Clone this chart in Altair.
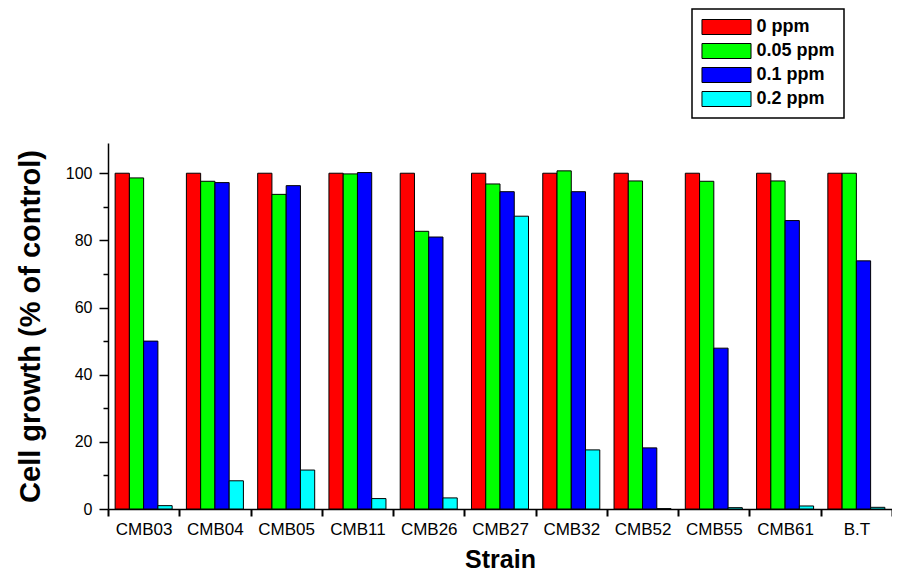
import altair as alt
import pandas as pd

strains = ["CMB03", "CMB04", "CMB05", "CMB11", "CMB26", "CMB27", "CMB32", "CMB52", "CMB55", "CMB61", "B.T"]
doses = ["0 ppm", "0.05 ppm", "0.1 ppm", "0.2 ppm"]
colors = ["#FF0000", "#00FF00", "#0000FF", "#00FFFF"]

v0 = [100, 100, 100, 100, 100, 100, 100, 100, 100, 100, 100]
v005 = [98.6, 97.6, 93.7, 99.8, 82.7, 96.8, 100.7, 97.7, 97.6, 97.7, 100.0]
v01 = [50.0, 97.2, 96.3, 100.2, 81.0, 94.5, 94.5, 18.2, 47.9, 85.9, 73.9]
v02 = [1.0, 8.4, 11.6, 3.1, 3.3, 87.2, 17.6, 0.1, 0.4, 0.9, 0.5]

y_ticks = [0, 10, 20, 30, 40, 50, 60, 70, 80, 90, 100]

rows = []
for series, dose in zip([v0, v005, v01, v02], doses):
    for s, v in zip(strains, series):
        rows.append({"Strain": s, "Dose": dose, "Value": v})
df = pd.DataFrame(rows)

FONT = "Liberation Sans"

chart = alt.Chart(df).mark_bar(stroke="black", strokeWidth=1).encode(
    x=alt.X("Strain:N", sort=strains,
            scale=alt.Scale(paddingInner=0, paddingOuter=0),
            axis=alt.Axis(title="Strain", labelAngle=0, ticks=True, tickBand="extent",
                          tickSize=7, tickColor="black", tickWidth=2, tickOpacity=1,
                          labelPadding=5, labelFontSize=17, labelFont=FONT,
                          titleFontSize=25, titleFont=FONT, titleFontWeight="bold",
                          titlePadding=10)),
    xOffset=alt.XOffset("Dose:N", sort=doses,
                        scale=alt.Scale(paddingInner=0, paddingOuter=0.5)),
    y=alt.Y("Value:Q", scale=alt.Scale(domain=[0, 109], nice=False),
            axis=alt.Axis(title="Cell growth (% of control)", values=y_ticks,
                          labelExpr="datum.value % 20 === 0 ? datum.label : ''",
                          tickSize={"condition": {"test": "datum.value % 20 === 0", "value": 9}, "value": 5},
                          labelPadding=7, labelFontSize=16, labelFont=FONT,
                          titleFontSize=29, titleFont=FONT, titleFontWeight="bold",
                          titlePadding=20, grid=False)),
    color=alt.Color("Dose:N", sort=doses, title=None,
                    scale=alt.Scale(domain=doses, range=colors),
                    legend=alt.Legend(orient="none", legendX=584, legendY=-134,
                                      symbolType="M-3.27,-1H3.27V1H-3.27Z", symbolSize=225,
                                      symbolOffset=16.5, labelOffset=21,
                                      symbolStrokeColor="black", symbolStrokeWidth=1,
                                      symbolOpacity=1,
                                      labelFont=FONT, labelFontSize=18, labelFontWeight="bold",
                                      labelColor="black", rowPadding=4, padding=9,
                                      strokeColor="black", fillColor="white")),
).properties(
    width=784, height=366,
    autosize=alt.AutoSizeParams(type="none"),
    padding={"left": 100, "top": 135, "right": 0, "bottom": 66},
).configure_view(stroke=None).configure_axis(
    domainColor="black", domainWidth=1.5, tickWidth=1.5,
    labelColor="black", titleColor="black",
).configure_axisY(tickColor="black").configure_legend(strokeWidth=1.5)

chart.save("out.html", embed_options={"renderer": "svg", "actions": False})
